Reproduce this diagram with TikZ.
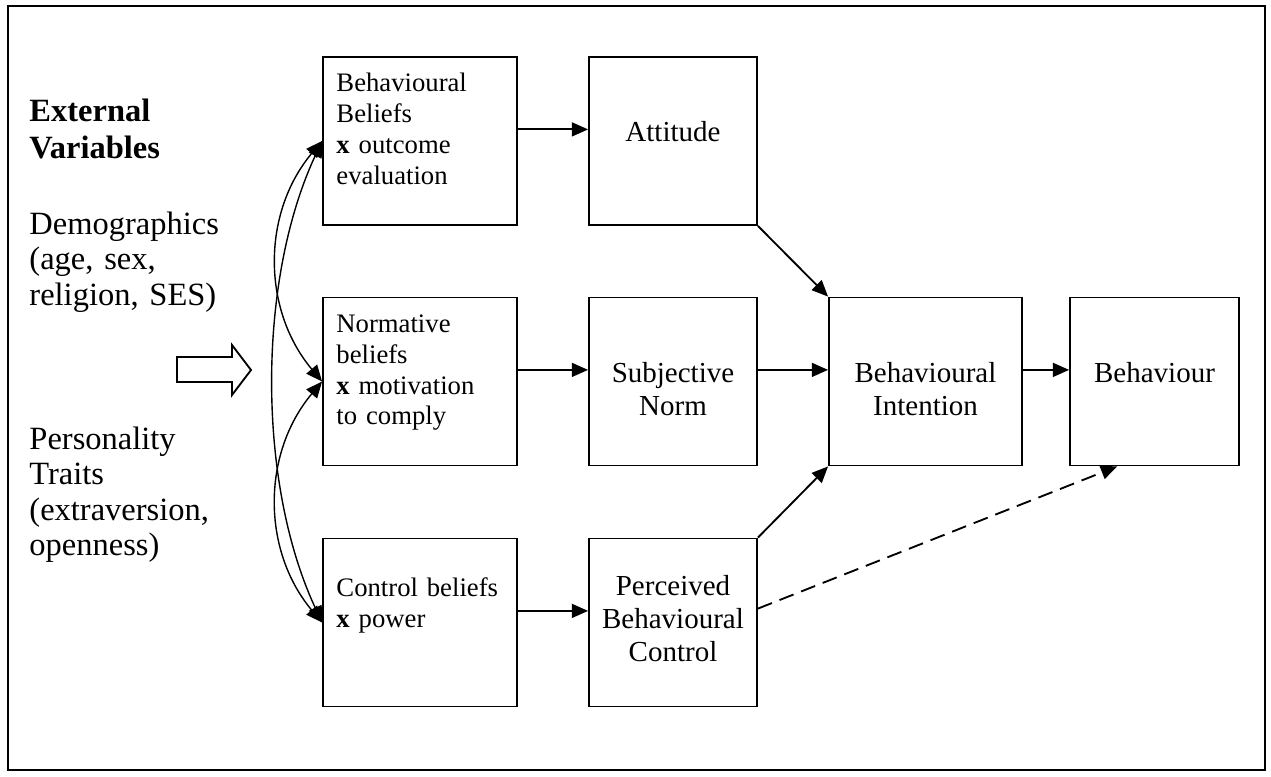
\documentclass[tikz,border=0pt]{standalone}
\usepackage{fontspec}
\setmainfont{Liberation Serif}
\usetikzlibrary{arrows.meta}

\tikzset{
  belief/.style={draw, rectangle, line width=0.8pt, text width=72pt, inner xsep=5.8pt, inner ysep=0pt,
    align=left, font=\fontsize{11.5}{13.3}\selectfont, text height=15pt, text depth=57.4pt},
  construct/.style={draw, rectangle, line width=0.8pt, text width=66.4pt, inner xsep=3pt, inner ysep=0pt,
    align=center, font=\fontsize{12.5}{14.2}\selectfont, text height=36.6pt, text depth=35.8pt},
  sidetext/.style={anchor=base west, inner sep=0pt, text width=120pt, align=left,
    font=\fontsize{14}{15.3}\selectfont},
  link/.style={->, line width=0.8pt},
  corr/.style={<->, line width=0.6pt}
}

\begin{document}
\begin{tikzpicture}[x=0.431pt, y=0.431pt, >={Triangle[length=7pt, width=6pt]}]
    \useasboundingbox (0,0) rectangle (1271,776);
    \draw[line width=0.7pt] (8,6) rectangle (1265,770);

    % external variables
    \node[sidetext, font=\fontsize{14}{16}\selectfont\bfseries] (extv) at (29,655) {External\\Variables};
    \node[sidetext] (demo) at (29,542) {Demographics\\(age, sex,\\religion, SES)};
    \node[sidetext] (pers) at (29,327) {Personality\\Traits\\(extraversion,\\openness)};
    \draw[line width=0.8pt] (177,394) -- (232,394) -- (232,381) -- (251,406) -- (232,431) -- (232,419) -- (177,419) -- cycle;

    % beliefs
    \node[belief] (bbel) at (420,635) {Behavioural\\Beliefs\\\textbf{x} outcome\\evaluation};
    \node[belief] (nbel) at (420,394.5) {Normative\\beliefs\\\textbf{x} motivation\\to comply};
    \node[belief, text height=25pt, text depth=47.4pt] (cbel) at (420,153.5) {Control beliefs\\\textbf{x} power};

    % constructs
    \node[construct] (att) at (673,635) {Attitude};
    \node[construct] (sn) at (673,394.5) {Subjective\\Norm};
    \node[construct, text height=24.6pt, text depth=47.8pt] (pbc) at (673,153.5) {Perceived\\Behavioural\\Control};
    \node[construct, text width=77.2pt] (bi) at (925.5,394.5) {Behavioural\\Intention};
    \node[construct, text width=66.8pt] (beh) at (1154.5,394.5) {Behaviour};

    \draw[corr] (bbel.west) to[bend right=40] (nbel.west);
    \draw[corr] (nbel.west) to[bend right=40] (cbel.west);
    \draw[corr] (bbel.west) to[out=245, in=115, looseness=0.82] (cbel.west);

    \draw[link] ([yshift=5pt]bbel.east) -- ([yshift=5pt]att.west);
    \draw[link] ([yshift=5pt]nbel.east) -- ([yshift=5pt]sn.west);
    \draw[link] ([yshift=5pt]cbel.east) -- ([yshift=5pt]pbc.west);
    \draw[link] (att.south east) -- (bi.north west);
    \draw[link] ([yshift=5pt]sn.east) -- ([yshift=5pt]bi.west);
    \draw[link] (pbc.north east) -- (bi.south west);
    \draw[link] ([yshift=5pt]bi.east) -- ([yshift=5pt]beh.west);
    \draw[link, dash pattern=on 6.5pt off 3.5pt] ([yshift=6pt]pbc.east) -- ([xshift=20.7pt]beh.south west);
\end{tikzpicture}
\end{document}
